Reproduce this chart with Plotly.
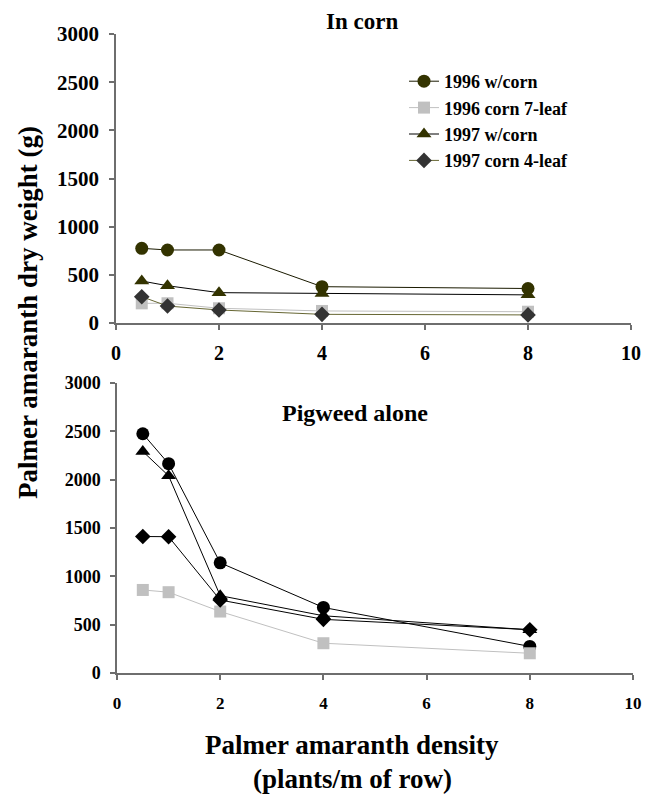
import plotly.graph_objects as go

# density (plants/m of row)
density = [0.5, 1, 2, 4, 8]

# In corn
corn_1996 = [775, 758, 758, 377, 358]
corn_1996_7leaf = [204, 205, 153, 125, 117]
corn_1997 = [436, 387, 315, 305, 292]
corn_1997_4leaf = [273, 176, 135, 90, 84]

# Pigweed alone
alone_1996 = [2475, 2165, 1140, 678, 275]
alone_1996_7leaf = [859, 836, 636, 308, 204]
alone_1997 = [2292, 2040, 800, 592, 447]
alone_1997_4leaf = [1412, 1410, 755, 555, 448]

names = ["1996 w/corn", "1996 corn 7-leaf", "1997 w/corn", "1997 corn 4-leaf"]
x_ticks = [0, 2, 4, 6, 8, 10]
y_ticks = [0, 500, 1000, 1500, 2000, 2500, 3000]

# page body has an 8px margin, so the figure is shrunk by that and positions shifted
OFF = 8
W, H = 656 - OFF, 794 - OFF
FONT = "Liberation Serif"


def px(x):
    return (x - OFF) / W


def py(y):
    return 1 - (y - OFF) / H


fig = go.Figure()

top_styles = [
    dict(symbol="circle", size=13, fill="#333300", line="#1a1a00"),
    dict(symbol="square", size=12, fill="#C0C0C0", line="#C0C0C0"),
    dict(symbol="triangle-up", size=13, fill="#333300", line="#000000"),
    dict(symbol="diamond", size=12, fill="#333333", line="#666633"),
]
bottom_styles = [
    dict(symbol="circle", size=13, fill="#000000", line="#000000"),
    dict(symbol="square", size=12, fill="#C0C0C0", line="#C0C0C0"),
    dict(symbol="triangle-up", size=13, fill="#000000", line="#000000"),
    dict(symbol="diamond", size=12, fill="#000000", line="#000000"),
]

for series, st, name in zip([corn_1996, corn_1996_7leaf, corn_1997, corn_1997_4leaf], top_styles, names):
    fig.add_trace(go.Scatter(
        x=density, y=series, name=name, mode="lines+markers",
        line=dict(color=st["line"], width=1),
        marker=dict(symbol=st["symbol"], size=st["size"], color=st["fill"]),
        xaxis="x", yaxis="y"))

for series, st in zip([alone_1996, alone_1996_7leaf, alone_1997, alone_1997_4leaf], bottom_styles):
    fig.add_trace(go.Scatter(
        x=density, y=series, mode="lines+markers", showlegend=False,
        line=dict(color=st["line"], width=1),
        marker=dict(symbol=st["symbol"], size=st["size"], color=st["fill"]),
        xaxis="x2", yaxis="y2"))

axis_common = dict(
    showgrid=False, zeroline=False, showline=True, linecolor="#6e6e6e", linewidth=1.5,
    ticks="outside", ticklen=5, tickcolor="#6e6e6e", tickwidth=1.5, automargin=False,
)

fig.update_layout(
    width=W, height=H, autosize=False,
    margin=dict(l=0, r=0, t=0, b=0, pad=0),
    paper_bgcolor="white", plot_bgcolor="white",
    font=dict(family=FONT, color="black"),
    xaxis=dict(domain=[px(116), px(631)], anchor="y", range=[0, 10], tickvals=x_ticks,
               ticklabelstandoff=6,
               tickfont=dict(size=20, family=FONT, weight="bold"), **axis_common),
    yaxis=dict(domain=[py(323), py(34)], anchor="x", range=[0, 3000], tickvals=y_ticks,
               ticklabelstandoff=6,
               tickfont=dict(size=21, family=FONT, weight="bold"), **axis_common),
    xaxis2=dict(domain=[px(117), px(633)], anchor="y2", range=[0, 10], tickvals=x_ticks,
                ticklabelstandoff=9,
                tickfont=dict(size=17, family=FONT, weight="bold"), **axis_common),
    yaxis2=dict(domain=[py(673), py(383)], anchor="x2", range=[0, 3000], tickvals=y_ticks,
                ticklabelstandoff=6,
                tickfont=dict(size=18, family=FONT, weight="bold"), **axis_common),
    showlegend=True,
    legend=dict(x=px(404), y=py(63), xanchor="left", yanchor="top",
                font=dict(size=18, family=FONT, weight="bold"),
                bgcolor="rgba(0,0,0,0)", itemwidth=30, tracegroupgap=0),
)

annotations = [
    dict(text="In corn", x=362, y=22, size=23),
    dict(text="Pigweed alone", x=355, y=413, size=24),
    dict(text="Palmer amaranth density", x=352, y=745, size=27),
    dict(text="(plants/m of row)", x=352, y=779, size=27),
]
for a in annotations:
    fig.add_annotation(text="<b>" + a["text"] + "</b>", x=px(a["x"]), y=py(a["y"]),
                       xref="paper", yref="paper", xanchor="center", yanchor="middle",
                       showarrow=False, font=dict(size=a["size"], family=FONT, color="black"))

fig.add_annotation(text="<b>Palmer amaranth dry weight (g)</b>", x=px(28), y=py(313),
                   xref="paper", yref="paper", xanchor="center", yanchor="middle",
                   showarrow=False, textangle=-90,
                   font=dict(size=27, family=FONT, color="black"))

fig.write_html("out.html")
